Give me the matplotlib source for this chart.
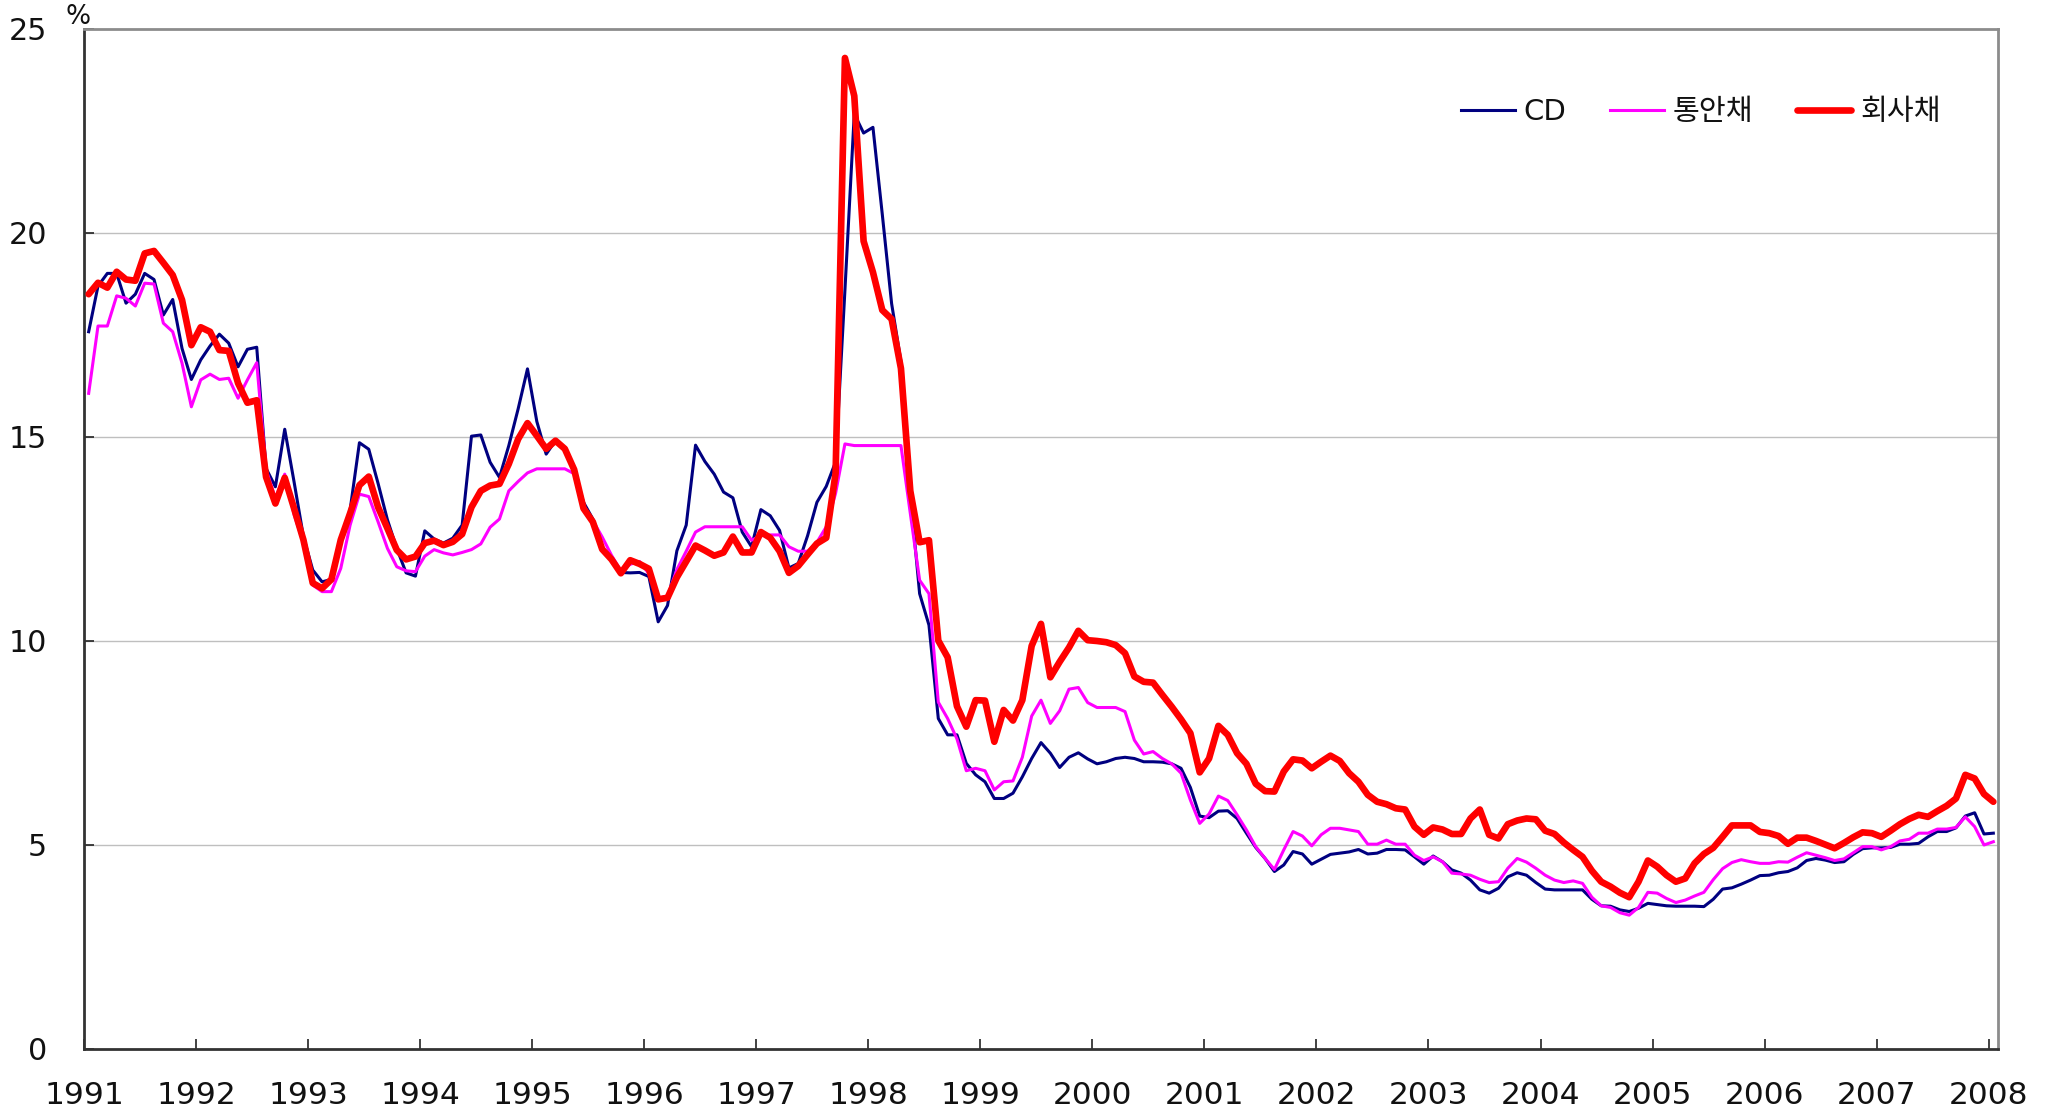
import numpy as np
import matplotlib
matplotlib.use("Agg")
import matplotlib.pyplot as plt

plt.rcParams['font.family'] = ['DejaVu Sans', 'Noto Sans CJK KR']

# ---- data (monthly, Jan 1991 .. Jan 2008) ----
year_labels = [str(y) for y in range(1991, 2009)]
series_names = ["CD", "통안채", "회사채"]

cd = [
    17.58, 18.7, 19.01, 19.01, 18.28, 18.5, 19.01, 18.86, 17.99, 18.37, 17.17, 16.41,
    16.89, 17.23, 17.52, 17.3, 16.72, 17.15, 17.2, 14.23, 13.78, 15.19, 13.9, 12.56,
    11.74, 11.45, 11.51, 12.48, 13.21, 14.86, 14.7, 13.86, 12.97, 12.27, 11.67, 11.59,
    12.7, 12.5, 12.4, 12.52, 12.84, 15.02, 15.05, 14.38, 14.01, 14.79, 15.69, 16.67,
    15.38, 14.58, 14.91, 14.71, 14.17, 13.4, 12.99, 12.21, 12.01, 11.68, 11.67, 11.68,
    11.58, 10.47, 10.87, 12.21, 12.84, 14.8, 14.4, 14.09, 13.65, 13.51, 12.67, 12.31,
    13.22, 13.07, 12.71, 11.79, 11.9, 12.58, 13.4, 13.79, 14.39, 18.6, 22.92, 22.45,
    22.59, 20.46, 18.27, 16.85, 13.6, 11.16, 10.39, 8.1, 7.7, 7.7, 7.0, 6.72,
    6.55, 6.14, 6.14, 6.27, 6.67, 7.12, 7.51, 7.25, 6.9, 7.15, 7.26, 7.11,
    6.99, 7.04, 7.12, 7.15, 7.12, 7.04, 7.04, 7.03, 6.99, 6.88, 6.41, 5.71,
    5.67, 5.83, 5.84, 5.65, 5.29, 4.94, 4.67, 4.35, 4.51, 4.84, 4.78, 4.53,
    4.65, 4.77, 4.8, 4.83, 4.89, 4.78, 4.8, 4.89, 4.89, 4.88, 4.71, 4.53,
    4.73, 4.59, 4.39, 4.31, 4.14, 3.9, 3.82, 3.94, 4.22, 4.32, 4.26, 4.08,
    3.92, 3.9, 3.9, 3.9, 3.9, 3.67, 3.51, 3.5, 3.41, 3.37, 3.45, 3.57,
    3.54, 3.51, 3.5, 3.5, 3.5, 3.49, 3.67, 3.92, 3.95, 4.04, 4.14, 4.25,
    4.26, 4.32, 4.35, 4.44, 4.62, 4.67, 4.63, 4.57, 4.59, 4.77, 4.91, 4.93,
    4.93, 4.94, 5.02, 5.02, 5.04, 5.2, 5.33, 5.33, 5.42, 5.71, 5.79, 5.27,
    5.29,
]

msb = [
    16.07, 17.72, 17.72, 18.46, 18.4, 18.21, 18.77, 18.75, 17.79, 17.58, 16.81, 15.74,
    16.4, 16.54, 16.41, 16.44, 15.95, 16.4, 16.82, 14.2, 13.5, 14.09, 13.1, 12.4,
    11.37, 11.21, 11.21, 11.78, 12.84, 13.6, 13.54, 12.92, 12.27, 11.82, 11.72, 11.7,
    12.08, 12.24, 12.16, 12.11, 12.17, 12.24, 12.38, 12.79, 12.99, 13.68, 13.91, 14.12,
    14.22, 14.22, 14.22, 14.22, 14.1, 13.32, 12.95, 12.55, 12.1, 11.72, 11.88, 11.95,
    11.65, 11.05, 11.1, 11.75, 12.2, 12.67, 12.8, 12.8, 12.8, 12.8, 12.8, 12.47,
    12.58, 12.6, 12.6, 12.31, 12.2, 12.2, 12.42, 12.8, 13.62, 14.83, 14.79, 14.79,
    14.79, 14.79, 14.79, 14.79, 13.13, 11.49, 11.16, 8.5, 8.1, 7.6, 6.82, 6.88,
    6.82, 6.35, 6.55, 6.57, 7.15, 8.16, 8.55, 7.98, 8.29, 8.82, 8.86, 8.49,
    8.37, 8.37, 8.37, 8.27, 7.57, 7.23, 7.29, 7.12, 6.99, 6.76, 6.1, 5.53,
    5.76, 6.2, 6.09, 5.74, 5.37, 4.96, 4.67, 4.4, 4.88, 5.33, 5.22, 4.98,
    5.25, 5.41, 5.41, 5.37, 5.33, 5.02, 5.02, 5.12, 5.02, 5.02, 4.75, 4.62,
    4.71, 4.59, 4.31, 4.29, 4.26, 4.16, 4.08, 4.1, 4.43, 4.67, 4.58, 4.43,
    4.26, 4.14, 4.08, 4.12, 4.06, 3.72, 3.51, 3.47, 3.34, 3.28, 3.47, 3.84,
    3.82, 3.69, 3.59, 3.65, 3.75, 3.84, 4.15, 4.42, 4.57, 4.64, 4.59, 4.55,
    4.55, 4.59, 4.58, 4.7, 4.81, 4.75, 4.69, 4.62, 4.66, 4.81, 4.96, 4.96,
    4.88, 4.96, 5.1, 5.14, 5.29, 5.29, 5.39, 5.39, 5.43, 5.69, 5.45, 5.0,
    5.08,
]

corp = [
    18.5, 18.78, 18.66, 19.05, 18.86, 18.83, 19.5, 19.56, 19.27, 18.97, 18.36, 17.25,
    17.69, 17.58, 17.13, 17.11, 16.32, 15.84, 15.9, 14.02, 13.37, 14.0, 13.25, 12.48,
    11.42, 11.29, 11.51, 12.48, 13.13, 13.82, 14.03, 13.28, 12.76, 12.23, 12.0, 12.07,
    12.4, 12.46, 12.35, 12.43, 12.62, 13.28, 13.68, 13.81, 13.85, 14.34, 14.95, 15.34,
    15.03, 14.71, 14.91, 14.71, 14.2, 13.25, 12.92, 12.25, 12.0, 11.66, 11.98, 11.89,
    11.77, 11.02, 11.06, 11.56, 11.95, 12.34, 12.22, 12.09, 12.17, 12.56, 12.17, 12.17,
    12.67, 12.53, 12.2, 11.67, 11.84, 12.12, 12.39, 12.53, 14.11, 24.29, 23.36, 19.8,
    19.04, 18.11, 17.89, 16.68, 13.68, 12.42, 12.47, 10.01, 9.6, 8.4, 7.9, 8.55,
    8.54, 7.53, 8.31, 8.05, 8.55, 9.88, 10.42, 9.11, 9.49, 9.84, 10.25, 10.02,
    10.0, 9.97, 9.9, 9.7, 9.13, 9.0, 8.98, 8.68, 8.39, 8.08, 7.74, 6.78,
    7.12, 7.92, 7.7, 7.25, 6.99, 6.5, 6.32, 6.31, 6.8, 7.1, 7.07, 6.88,
    7.04, 7.19, 7.06, 6.76, 6.55, 6.23, 6.06, 6.0, 5.9, 5.87, 5.45, 5.25,
    5.43, 5.38, 5.27, 5.27, 5.65, 5.87, 5.25, 5.16, 5.51, 5.6, 5.65, 5.63,
    5.35, 5.27, 5.06, 4.88, 4.71, 4.37, 4.1, 3.98, 3.83, 3.72, 4.1, 4.62,
    4.47, 4.26, 4.1, 4.18, 4.55, 4.78, 4.93, 5.2, 5.48, 5.48, 5.48, 5.32,
    5.29, 5.22, 5.03, 5.18, 5.18, 5.1, 5.01, 4.92, 5.05, 5.19, 5.31, 5.29,
    5.2, 5.35, 5.51, 5.64, 5.74, 5.69, 5.83, 5.96, 6.14, 6.72, 6.63, 6.25,
    6.06,
]

n = len(cd)
W, H = 2056, 1113
fig = plt.figure(figsize=(W / 100, H / 100), dpi=100)
ax = fig.add_axes([84 / W, 1 - 1049 / H, (1998 - 84) / W, (1049 - 29) / H])

x = np.arange(n) + 0.5
ax.plot(x, cd, color='#000080', lw=2.2, label=series_names[0], zorder=3,
        solid_joinstyle='round')
ax.plot(x, msb, color='#FF00FF', lw=2.2, label=series_names[1], zorder=3,
        solid_joinstyle='round')
ax.plot(x, corp, color='#FF0000', lw=4.8, label=series_names[2], zorder=4,
        solid_joinstyle='round', solid_capstyle='round')

ax.set_xlim(0, n)
ax.set_ylim(0, 25)
ax.set_xticks(np.arange(0, n, 12))
ax.set_xticklabels(year_labels)
ax.set_yticks([0, 5, 10, 15, 20, 25])
ax.set_yticklabels(['0', '5', '10', '15', '20', '25'])

for v in [5, 10, 15, 20]:
    ax.axhline(v, color='#BFBFBF', lw=1.0, zorder=1)

ax.tick_params(axis='x', direction='in', length=7.5, width=1.2, color='#222222',
               labelsize=22.5, pad=23, labelcolor='#111111')
ax.tick_params(axis='y', direction='in', length=7.5, width=1.2, color='#222222',
               labelsize=21.7, pad=26.5, labelcolor='#111111')
for lbl in ax.get_xticklabels():
    lbl.set_x(lbl.get_position()[0])

for s in ['left', 'bottom']:
    ax.spines[s].set_color('#333333')
    ax.spines[s].set_linewidth(2.0)
for s in ['top', 'right']:
    ax.spines[s].set_color('#8C8C8C')
    ax.spines[s].set_linewidth(2.0)

fig.text(78 / W, 1 - 17 / H, '%', ha='center', va='center', fontsize=19,
         color='#111111')

leg = fig.legend(loc='center left', bbox_to_anchor=(1461 / W, 1 - 112 / H),
                 ncol=3, frameon=False, fontsize=21, handlelength=1.85,
                 handletextpad=0.3, columnspacing=1.5, borderpad=0,
                 borderaxespad=0)
for t in leg.get_texts():
    t.set_color('#111111')

fig.savefig('out.png', dpi=100, facecolor='white')
